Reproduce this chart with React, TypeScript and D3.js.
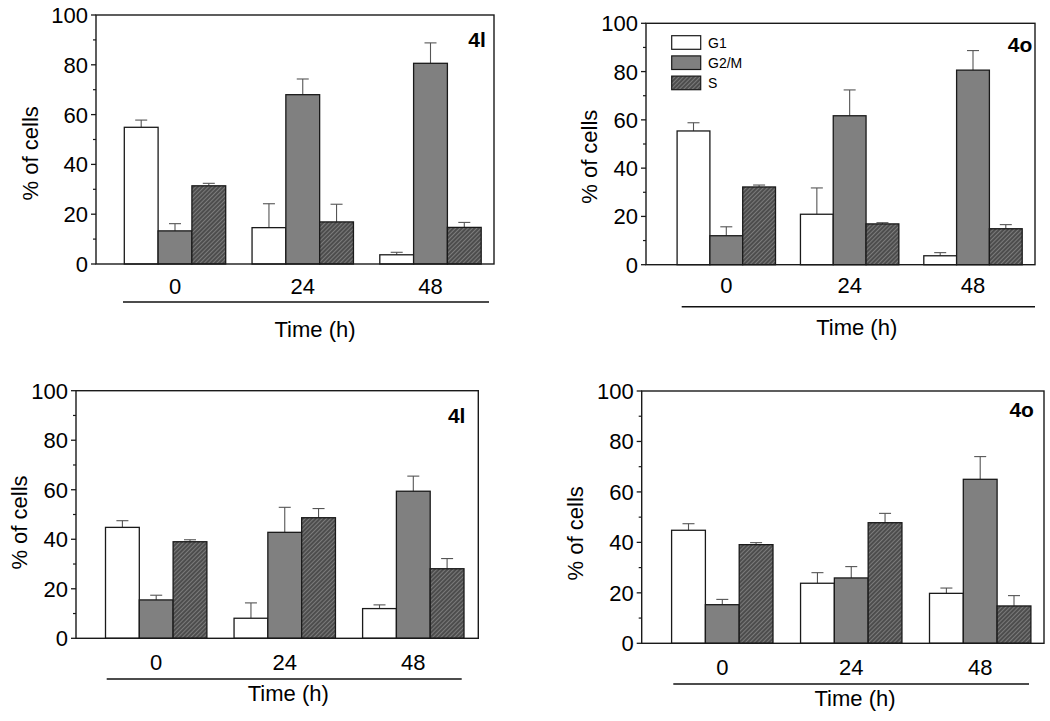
import React from "react";
import * as d3 from "d3";

const categories = ["0", "24", "48"];
const seriesNames = ["G1", "G2/M", "S"];
const majorTicks = [0, 20, 40, 60, 80, 100];
const minorTicks = [10, 30, 50, 70, 90];

// values per series: [G1, G2/M, S], each over categories 0, 24, 48
const topLeftMeans = [[54.9, 14.6, 3.7], [13.3, 68.0, 80.6], [31.4, 16.9, 14.7]];
const topLeftErrs = [[2.9, 9.6, 1.0], [2.9, 6.3, 8.2], [1.0, 7.1, 2.0]];
const topRightMeans = [[55.4, 20.9, 3.7], [12.0, 61.7, 80.6], [32.2, 16.9, 14.9]];
const topRightErrs = [[3.4, 10.9, 1.3], [3.7, 10.7, 8.1], [0.8, 0.5, 1.7]];
const bottomLeftMeans = [[44.8, 8.1, 12.0], [15.5, 42.8, 59.4], [39.0, 48.7, 28.1]];
const bottomLeftErrs = [[2.7, 6.2, 1.5], [1.9, 10.1, 6.1], [0.8, 3.7, 4.1]];
const bottomRightMeans = [[44.8, 23.8, 19.8], [15.3, 25.9, 65.0], [39.1, 47.8, 14.8]];
const bottomRightErrs = [[2.6, 4.2, 2.1], [2.1, 4.5, 9.0], [0.8, 3.7, 4.1]];

const FONT = "'Liberation Sans', Arial, sans-serif";
const FILLS = ["#ffffff", "#808080", "url(#hatch)"];
const FS = 22;

type Layout = {
  left: number; right: number; top: number; bottom: number;
  c0: number; c2: number; barW: number;
  ulY: number; ulX0: number; ulX1: number;
  catY: number; timeX: number; timeY: number;
  ylX: number; ylY: number;
  tagX: number; tagY: number;
  legend?: { x: number; y0: number; dy: number; w: number; h: number; tx: number };
};

function Panel({ L, means, errs, tag }: { L: Layout; means: number[][]; errs: number[][]; tag: string }) {
  const y = d3.scaleLinear().domain([0, 100]).range([L.bottom, L.top]);
  const x = d3.scalePoint<string>().domain(categories).range([L.c0, L.c2]);
  const inner = d3.scaleBand<string>().domain(seriesNames).range([-1.5 * L.barW, 1.5 * L.barW]).padding(0);
  const bw = inner.bandwidth();
  return (
    <g>
      {seriesNames.map((s, si) =>
        categories.map((c, ci) => {
          const bx = (x(c) as number) + (inner(s) as number);
          const v = means[si][ci];
          const e = errs[si][ci];
          const cx = bx + bw / 2;
          return (
            <g key={s + c}>
              <line x1={cx} x2={cx} y1={y(v)} y2={y(v + e)} stroke="#555" strokeWidth={1.1} />
              <line x1={cx - 6} x2={cx + 6} y1={y(v + e)} y2={y(v + e)} stroke="#555" strokeWidth={1.1} />
              <rect x={bx} y={y(v)} width={bw} height={y(0) - y(v)} fill={FILLS[si]} stroke="#1a1a1a" strokeWidth={1.3} />
            </g>
          );
        })
      )}
      <rect x={L.left} y={L.top} width={L.right - L.left} height={L.bottom - L.top} fill="none" stroke="#1a1a1a" strokeWidth={1.4} />
      {majorTicks.map((t) => (
        <g key={"M" + t}>
          <line x1={L.left - 5} x2={L.left} y1={y(t)} y2={y(t)} stroke="#1a1a1a" strokeWidth={1.3} />
          <text x={L.left - 8} y={y(t)} dy="0.36em" textAnchor="end" fontSize={FS} fontFamily={FONT} fill="#000">{t}</text>
        </g>
      ))}
      {minorTicks.map((t) => (
        <line key={"m" + t} x1={L.left - 3} x2={L.left} y1={y(t)} y2={y(t)} stroke="#1a1a1a" strokeWidth={1.2} />
      ))}
      {categories.map((c) => (
        <text key={"c" + c} x={x(c)} y={L.catY} textAnchor="middle" fontSize={FS} fontFamily={FONT} fill="#000">{c}</text>
      ))}
      <line x1={L.ulX0} x2={L.ulX1} y1={L.ulY} y2={L.ulY} stroke="#111" strokeWidth={1.6} />
      <text x={L.timeX} y={L.timeY} textAnchor="middle" fontSize={FS} fontFamily={FONT} fill="#000">Time (h)</text>
      <text transform={`translate(${L.ylX},${L.ylY}) rotate(-90)`} textAnchor="middle" fontSize={FS} fontFamily={FONT} fill="#000">% of cells</text>
      <text x={L.tagX} y={L.tagY} textAnchor="middle" fontSize={21} fontWeight="bold" fontFamily={FONT} fill="#000">{tag}</text>
      {L.legend &&
        seriesNames.map((s, si) => (
          <g key={"lg" + s}>
            <rect x={L.legend!.x} y={L.legend!.y0 + si * L.legend!.dy} width={L.legend!.w} height={L.legend!.h} fill={FILLS[si]} stroke="#1a1a1a" strokeWidth={1.2} />
            <text x={L.legend!.tx} y={L.legend!.y0 + si * L.legend!.dy + L.legend!.h / 2} dy="0.36em" fontSize={14} fontFamily={FONT} fill="#000">{s}</text>
          </g>
        ))}
    </g>
  );
}

const P1: Layout = { left: 96, right: 494, top: 15, bottom: 264, c0: 175, c2: 430.5, barW: 33.8, ulY: 302, ulX0: 123, ulX1: 489, catY: 294, timeX: 315, timeY: 337, ylX: 38, ylY: 153.3, tagX: 477, tagY: 46.5 };
const P2: Layout = { left: 646, right: 1035, top: 23.3, bottom: 264.7, c0: 726.3, c2: 973, barW: 32.8, ulY: 306.7, ulX0: 681.7, ulX1: 1035, catY: 293, timeX: 856.7, timeY: 335, ylX: 596.5, ylY: 156.7, tagX: 1020, tagY: 51.5, legend: { x: 671.7, y0: 35.7, dy: 20.2, w: 29, h: 13.6, tx: 708 } };
const P3: Layout = { left: 76, right: 478.3, top: 390.7, bottom: 638.3, c0: 156.2, c2: 413.3, barW: 33.8, ulY: 679, ulX0: 106.7, ulX1: 461.7, catY: 670, timeX: 288.3, timeY: 701, ylX: 26.5, ylY: 522.5, tagX: 456.7, tagY: 422.5 };
const P4: Layout = { left: 641.7, right: 1044, top: 391, bottom: 643.3, c0: 722.3, c2: 980.2, barW: 33.8, ulY: 684, ulX0: 673.3, ulX1: 1029, catY: 675, timeX: 855, timeY: 706, ylX: 583, ylY: 533.3, tagX: 1021.7, tagY: 417 };

export default function App() {
  return (
    <svg width={1050} height={721} style={{ position: "absolute", left: 0, top: 0, background: "#fff" }}>
      <defs>
        <pattern id="hatch" patternUnits="userSpaceOnUse" width={3} height={3} patternTransform="rotate(45)">
          <rect width={3} height={3} fill="#4d4d4d" />
          <line x1={0} y1={0} x2={0} y2={3} stroke="#a8a8a8" strokeWidth={1} />
        </pattern>
      </defs>
      <rect width={1050} height={721} fill="#fff" />
      <Panel L={P1} means={topLeftMeans} errs={topLeftErrs} tag="4l" />
      <Panel L={P2} means={topRightMeans} errs={topRightErrs} tag="4o" />
      <Panel L={P3} means={bottomLeftMeans} errs={bottomLeftErrs} tag="4l" />
      <Panel L={P4} means={bottomRightMeans} errs={bottomRightErrs} tag="4o" />
    </svg>
  );
}
